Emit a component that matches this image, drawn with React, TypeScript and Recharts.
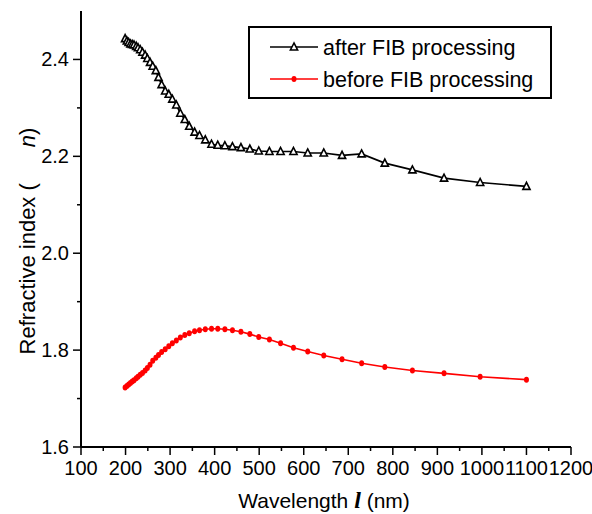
import React from 'react';
import { LineChart, Line, XAxis, YAxis, Legend } from 'recharts';

const wavelength = [199, 203, 207, 211, 215, 219, 224, 228, 233, 238, 244, 249, 255, 261, 268, 274, 281, 289, 297, 305, 314, 323, 333, 343, 355, 366, 379, 393, 407, 423, 440, 459, 479, 499, 523, 548, 577, 609, 645, 686, 730, 782, 844, 915, 996, 1100];

const afterFIB = [2.443, 2.438, 2.435, 2.432, 2.431, 2.430, 2.427, 2.424, 2.420, 2.415, 2.409, 2.402, 2.394, 2.386, 2.377, 2.363, 2.348, 2.335, 2.328, 2.318, 2.306, 2.289, 2.276, 2.262, 2.250, 2.243, 2.234, 2.225, 2.223, 2.222, 2.220, 2.218, 2.215, 2.211, 2.210, 2.210, 2.210, 2.207, 2.207, 2.202, 2.205, 2.186, 2.172, 2.155, 2.146, 2.138];

const beforeFIB = [1.723, 1.726, 1.729, 1.732, 1.735, 1.738, 1.742, 1.745, 1.749, 1.753, 1.758, 1.763, 1.770, 1.778, 1.784, 1.790, 1.796, 1.802, 1.808, 1.814, 1.820, 1.826, 1.831, 1.835, 1.839, 1.841, 1.843, 1.844, 1.844, 1.843, 1.841, 1.838, 1.833, 1.827, 1.822, 1.814, 1.805, 1.797, 1.789, 1.781, 1.773, 1.765, 1.758, 1.752, 1.745, 1.739];

const xTicks = [100, 150, 200, 250, 300, 350, 400, 450, 500, 550, 600, 650, 700, 750, 800, 850, 900, 950, 1000, 1050, 1100, 1150, 1200];
const yTicks = [1.6, 1.7, 1.8, 1.9, 2.0, 2.1, 2.2, 2.3, 2.4];

const seriesNames = ['after FIB processing', 'before FIB processing'];

const data = wavelength.map((w, i) => ({ x: w, after: afterFIB[i], before: beforeFIB[i] }));

const FONT = '"Liberation Sans", Arial, sans-serif';

const XTick = (props: any) => {
  const { x, y, payload } = props;
  const v = payload.value;
  const major = Math.round(v) % 100 === 0;
  return (
    <g>
      <line x1={x} x2={x} y1={y} y2={y + (major ? 8 : 4)} stroke="#000" strokeWidth={1.5} />
      {major && (
        <text x={x} y={y + 28} textAnchor="middle" fontSize={20} fontFamily={FONT} fill="#000">
          {v}
        </text>
      )}
    </g>
  );
};

const YTick = (props: any) => {
  const { x, y, payload } = props;
  const v = payload.value;
  const major = Math.round(v * 10) % 2 === 0;
  return (
    <g>
      <line x1={x - (major ? 8 : 4)} x2={x} y1={y} y2={y} stroke="#000" strokeWidth={1.5} />
      {major && (
        <text x={x - 12} y={y + 7} textAnchor="end" fontSize={20} fontFamily={FONT} fill="#000">
          {v.toFixed(1)}
        </text>
      )}
    </g>
  );
};

const Triangle = (props: any) => {
  const { cx, cy } = props;
  if (cx == null || cy == null) return null;
  return (
    <polygon
      points={`${cx},${cy - 4} ${cx - 3.6},${cy + 3} ${cx + 3.6},${cy + 3}`}
      fill="#fff"
      stroke="#000"
      strokeWidth={1.6}
    />
  );
};

const RedDot = (props: any) => {
  const { cx, cy } = props;
  if (cx == null || cy == null) return null;
  return <ellipse cx={cx} cy={cy} rx={2.5} ry={3} fill="#ff0000" stroke="none" />;
};

const XTitle = () => (
  <text x={324} y={508} textAnchor="middle" fontSize={21} fontFamily={FONT} fill="#000">
    Wavelength{' '}
    <tspan fontFamily='"Liberation Serif", serif' fontWeight="bold" fontStyle="italic" fontSize={24}>l</tspan>
    {' (nm)'}
  </text>
);

const YTitle = () => (
  <text
    x={35}
    y={241}
    transform="rotate(-90, 35, 241)"
    textAnchor="middle"
    fontSize={22}
    fontFamily={FONT}
    fill="#000"
  >
    Refractive index (
    <tspan dx={36} fontStyle="italic">n</tspan>)
  </text>
);

const LegendBox = () => (
  <svg width={304} height={73} style={{ display: 'block' }}>
    <rect x={1} y={1} width={302} height={71} fill="#fff" stroke="#000" strokeWidth={2} />
    <line x1={22} x2={70} y1={21} y2={21} stroke="#000" strokeWidth={1.6} />
    <Triangle cx={46} cy={21} />
    <text x={75} y={28.5} fontSize={21.5} fontFamily={FONT} fill="#000">{seriesNames[0]}</text>
    <line x1={22} x2={70} y1={53} y2={53} stroke="#ff0000" strokeWidth={1.6} />
    <RedDot cx={46} cy={53} />
    <text x={75} y={60.5} fontSize={21.5} fontFamily={FONT} fill="#000">{seriesNames[1]}</text>
  </svg>
);

export default function App() {
  return (
    <div style={{ position: 'absolute', left: 0, top: 0, width: 592, height: 514, background: '#fff' }}>
      <LineChart width={592} height={514} data={data} margin={{ top: 11, right: 21, bottom: 0, left: 0 }}>
        <XAxis
          dataKey="x"
          type="number"
          domain={[100, 1200]}
          ticks={xTicks}
          interval={0}
          allowDataOverflow
          height={67}
          tickSize={0}
          tickMargin={0}
          tickLine={false}
          tick={<XTick />}
          axisLine={{ stroke: '#000', strokeWidth: 2 }}
          label={<XTitle />}
        />
        <XAxis
          xAxisId="top"
          orientation="top"
          dataKey="x"
          type="number"
          domain={[100, 1200]}
          height={0}
          tick={false}
          tickLine={false}
          axisLine={{ stroke: '#000', strokeWidth: 2 }}
        />
        <YAxis
          type="number"
          domain={[1.6, 2.5]}
          ticks={yTicks}
          interval={0}
          allowDataOverflow
          width={81}
          tickSize={0}
          tickMargin={0}
          tickLine={false}
          tick={<YTick />}
          axisLine={{ stroke: '#000', strokeWidth: 2 }}
          label={<YTitle />}
        />
        <YAxis
          yAxisId="right"
          orientation="right"
          type="number"
          domain={[1.6, 2.5]}
          width={0}
          tick={false}
          tickLine={false}
          axisLine={{ stroke: '#000', strokeWidth: 2 }}
        />
        <Legend
          layout="vertical"
          align="center"
          verticalAlign="middle"
          content={<LegendBox />}
          wrapperStyle={{ position: 'absolute', left: 248, top: 26, width: 304, height: 73 }}
        />
        <Line
          dataKey="after"
          name={seriesNames[0]}
          stroke="#000"
          strokeWidth={1.6}
          dot={<Triangle />}
          activeDot={false}
          isAnimationActive={false}
        />
        <Line
          dataKey="before"
          name={seriesNames[1]}
          stroke="#ff0000"
          strokeWidth={1.6}
          dot={<RedDot />}
          activeDot={false}
          isAnimationActive={false}
        />
      </LineChart>
    </div>
  );
}
